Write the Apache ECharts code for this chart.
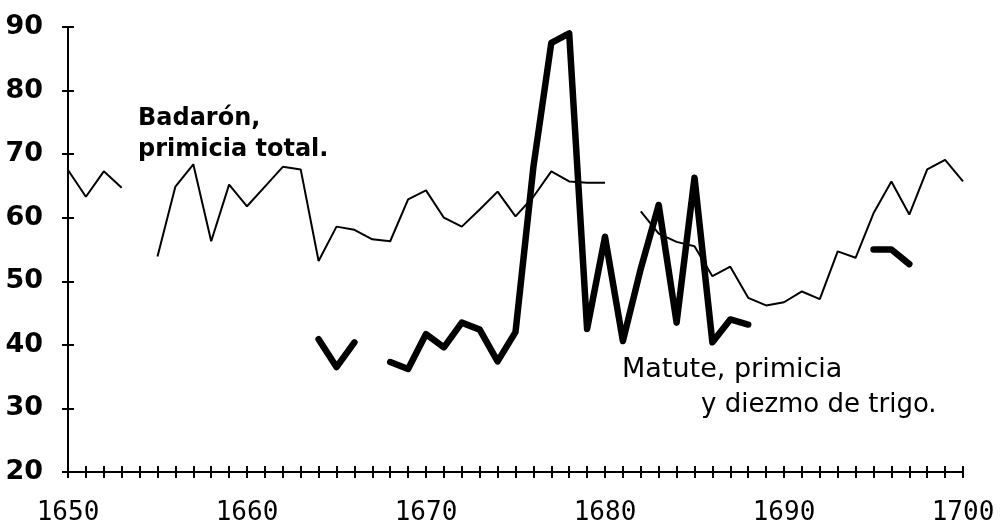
<!DOCTYPE html>
<html>
<head>
<meta charset="utf-8">
<script src="https://cdn.jsdelivr.net/npm/echarts@6/dist/echarts.min.js"></script>
<style>
  html, body { margin: 0; padding: 0; background: #fff; }
  #chart { width: 1002px; height: 526px; }
</style>
</head>
<body>
<div id="chart"></div>
<script>
// Years 1650..1700, one value per year (null = no data)
const years = [];
for (let y = 1650; y <= 1700; y++) years.push(y);

// Badarón, primicia total (thin line)
const badaron = [
  67.5, 63.3, 67.3, 64.7, null, 53.9, 64.9, 68.4, 56.3, 65.2,   // 1650-1659
  61.8, 64.9, 68.0, 67.6, 53.2, 58.6, 58.1, 56.6, 56.3, 62.9,   // 1660-1669
  64.3, 60.0, 58.6, 61.3, 64.1, 60.2, 63.3, 67.3, 65.7, 65.5,   // 1670-1679
  65.5, null, 61.0, 57.5, 56.2, 55.5, 50.8, 52.3, 47.4, 46.2,   // 1680-1689
  46.7, 48.4, 47.2, 54.7, 53.7, 60.7, 65.7, 60.5, 67.6, 69.1,   // 1690-1699
  65.7                                                          // 1700
];

// Matute, primicia y diezmo de trigo (thick line)
const matute = [
  null, null, null, null, null, null, null, null, null, null,   // 1650-1659
  null, null, null, null, 40.9, 36.5, 40.4, null, 37.3, 36.2,   // 1660-1669
  41.7, 39.6, 43.5, 42.4, 37.4, 42.0, 68.0, 87.5, 89.0, 42.5,   // 1670-1679
  57.0, 40.6, 52.0, 62.0, 43.5, 66.3, 40.4, 44.0, 43.2, null,   // 1680-1689
  null, null, null, null, null, 55.0, 55.0, 52.7, null, null,   // 1690-1699
  null                                                          // 1700
];

const yTicks = [20, 30, 40, 50, 60, 70, 80, 90];
const xLabelYears = [1650, 1660, 1670, 1680, 1690, 1700];

const chart = echarts.init(document.getElementById('chart'));

const axisLine = { show: true, lineStyle: { color: '#000', width: 2 } };
const tickStyle = { color: '#000', width: 2 };

const option = {
  backgroundColor: '#fff',
  animation: false,
  grid: { left: 68, right: 39, top: 27, bottom: 53 },
  xAxis: [
    {
      type: 'value', position: 'bottom',
      min: 1650, max: 1700, interval: 1,
      axisLine: axisLine,
      axisTick: { show: true, length: 6, lineStyle: tickStyle },
      splitLine: { show: false },
      axisLabel: {
        margin: 28,
        color: '#000',
        fontFamily: 'DejaVu Sans Mono',
        fontSize: 26,
        formatter: v => (xLabelYears.indexOf(v) >= 0 ? String(v) : '')
      }
    },
    {
      // same axis again with inside ticks, so the ticks cross the line ("+")
      type: 'value', position: 'bottom',
      min: 1650, max: 1700, interval: 1,
      axisLine: { show: false },
      axisTick: { show: true, inside: true, length: 6, lineStyle: tickStyle },
      axisLabel: { show: false },
      splitLine: { show: false }
    }
  ],
  yAxis: [
    {
      type: 'value', position: 'left',
      min: 20, max: 90, interval: 10,
      axisLine: axisLine,
      axisTick: { show: true, length: 6, lineStyle: tickStyle },
      splitLine: { show: false },
      axisLabel: {
        margin: 25,
        color: '#000',
        fontFamily: 'DejaVu Sans',
        fontWeight: 'bold',
        fontSize: 27,
        formatter: v => (yTicks.indexOf(v) >= 0 ? String(v) : '')
      }
    },
    {
      type: 'value', position: 'left',
      min: 20, max: 90, interval: 10,
      axisLine: { show: false },
      axisTick: { show: true, inside: true, length: 6, lineStyle: tickStyle },
      axisLabel: { show: false },
      splitLine: { show: false }
    }
  ],
  series: [
    {
      name: 'Badarón, primicia total.',
      type: 'line',
      showSymbol: false,
      connectNulls: false,
      lineStyle: { color: '#000', width: 2 },
      data: years.map((y, i) => [y, badaron[i]])
    },
    {
      name: 'Matute, primicia y diezmo de trigo.',
      type: 'line',
      showSymbol: false,
      connectNulls: false,
      lineStyle: { color: '#000', width: 6.5, join: 'round', cap: 'round' },
      data: years.map((y, i) => [y, matute[i]])
    }
  ],
  graphic: [
    {
      type: 'text', left: 138, top: 103,
      style: {
        text: 'Badarón,\nprimicia total.',
        font: 'bold 24px "DejaVu Sans"',
        lineHeight: 31,
        fill: '#000'
      }
    },
    {
      type: 'text', left: 622, top: 356,
      style: { text: 'Matute, primicia', font: '27px "DejaVu Sans"', fill: '#000' }
    },
    {
      type: 'text', left: 701, top: 392,
      style: { text: 'y diezmo de trigo.', font: '26px "DejaVu Sans"', fill: '#000' }
    }
  ]
};

chart.setOption(option);
</script>
</body>
</html>
